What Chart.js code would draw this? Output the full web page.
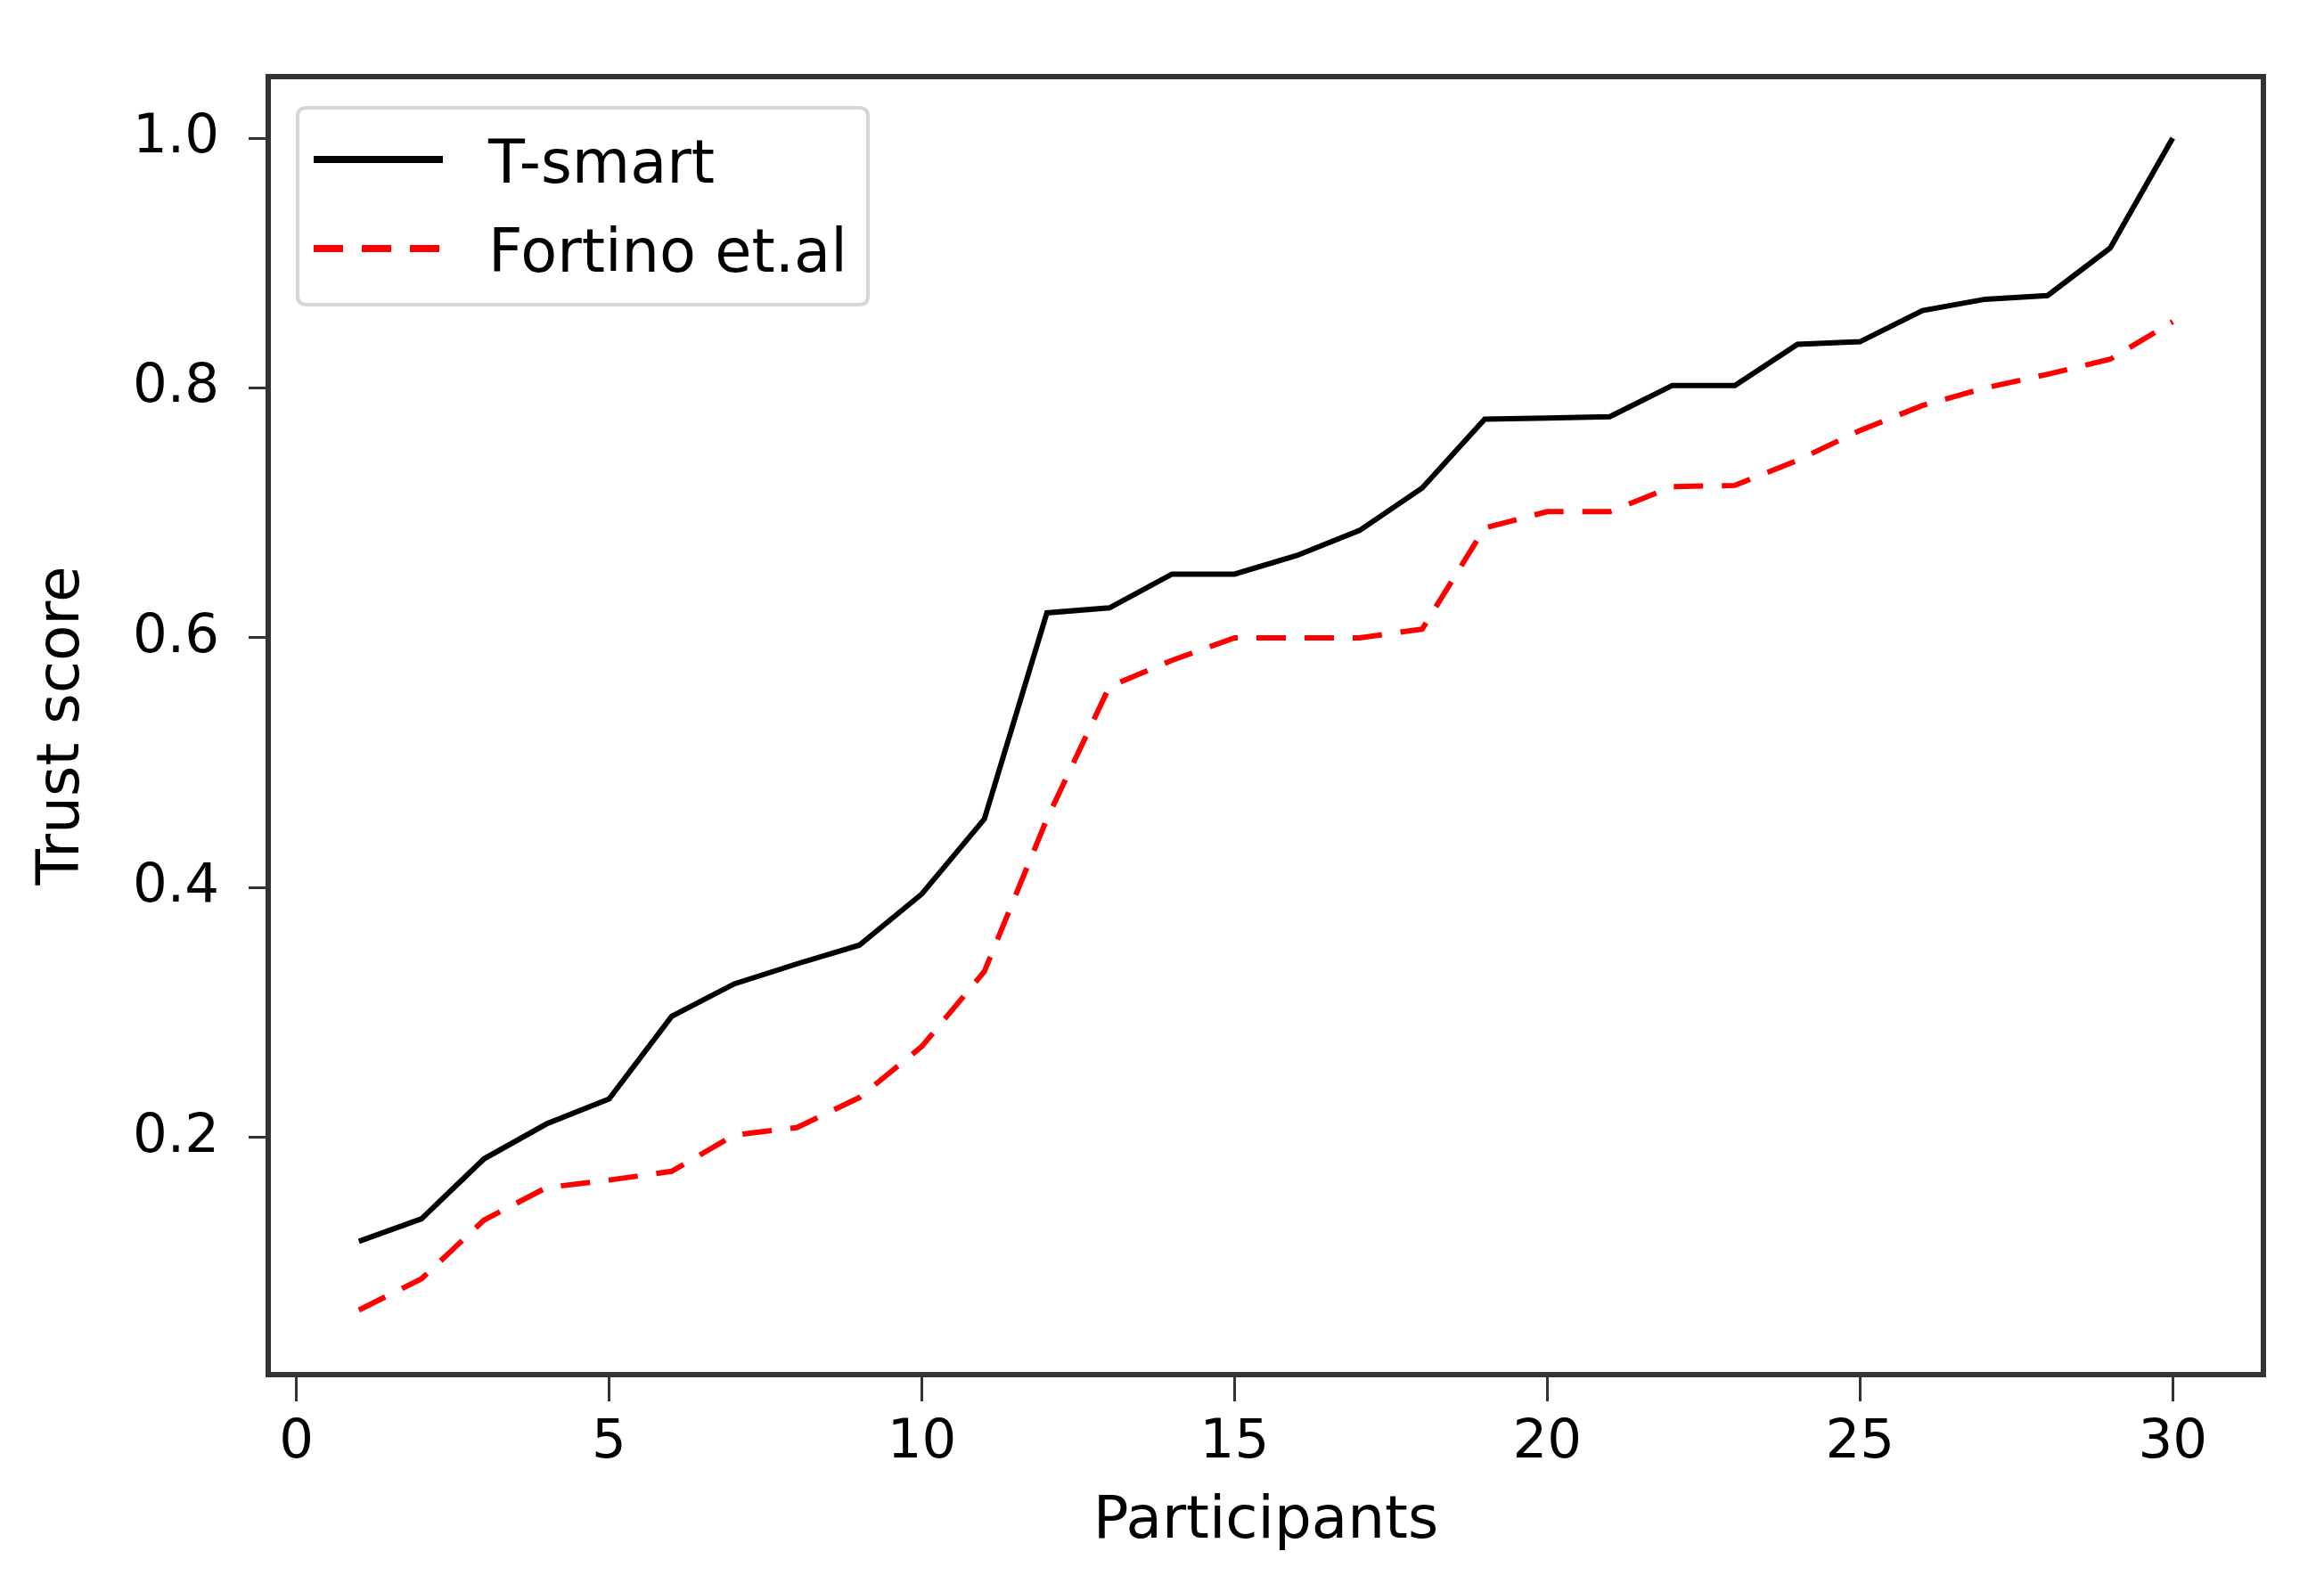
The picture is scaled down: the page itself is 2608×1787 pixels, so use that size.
<!DOCTYPE html>
<html>
<head>
<meta charset="utf-8">
<title>Trust score</title>
<script src="https://cdn.jsdelivr.net/npm/chart.js@4.4.0/dist/chart.umd.min.js"></script>
<style>
  html, body { margin: 0; padding: 0; background: #fff; }
  #wrap { width: 2608px; height: 1787px; }
</style>
</head>
<body>
<div id="wrap"><canvas id="trustChart" width="2608" height="1787"></canvas></div>
<script>
// ---- Datos ----
const participants = [1, 2, 3, 4, 5, 6, 7, 8, 9, 10, 11, 12, 13, 14, 15,
                      16, 17, 18, 19, 20, 21, 22, 23, 24, 25, 26, 27, 28, 29, 30];
const tsmart = [0.117, 0.135, 0.183, 0.211, 0.231, 0.297, 0.323, 0.339, 0.354, 0.395,
                0.455, 0.620, 0.624, 0.651, 0.651, 0.666, 0.686, 0.720, 0.775, 0.776,
                0.777, 0.802, 0.802, 0.835, 0.837, 0.862, 0.871, 0.874, 0.912, 1.000];
const fortino = [0.062, 0.087, 0.134, 0.160, 0.166, 0.173, 0.202, 0.208, 0.232, 0.273,
                 0.333, 0.455, 0.561, 0.582, 0.600, 0.600, 0.600, 0.607, 0.688, 0.701,
                 0.701, 0.721, 0.722, 0.742, 0.766, 0.786, 0.800, 0.811, 0.823, 0.853];
const xTicks = [0, 5, 10, 15, 20, 25, 30];
const yTicks = [0.2, 0.4, 0.6, 0.8, 1.0];
const seriesNames = ["T-smart", "Fortino et.al"];

const FONT = "'DejaVu Sans', 'Liberation Sans', sans-serif";
const AXIS = "#333333";

// marco completo del área del gráfico (estilo matplotlib)
const frame = {
  id: "frame",
  afterDatasetsDraw(chart) {
    const { ctx, chartArea: a } = chart;
    ctx.save();
    ctx.strokeStyle = AXIS;
    ctx.lineWidth = 6;
    ctx.strokeRect(a.left, a.top, a.right - a.left, a.bottom - a.top);
    ctx.restore();
  }
};

// leyenda con caja dentro del área, arriba a la izquierda
const boxLegend = {
  id: "boxLegend",
  afterDraw(chart) {
    const { ctx, chartArea: a } = chart;
    const x = a.left + 33, y = a.top + 35, w = 640, h = 221, r = 10;
    ctx.save();
    ctx.beginPath();
    ctx.moveTo(x + r, y);
    ctx.lineTo(x + w - r, y);
    ctx.quadraticCurveTo(x + w, y, x + w, y + r);
    ctx.lineTo(x + w, y + h - r);
    ctx.quadraticCurveTo(x + w, y + h, x + w - r, y + h);
    ctx.lineTo(x + r, y + h);
    ctx.quadraticCurveTo(x, y + h, x, y + h - r);
    ctx.lineTo(x, y + r);
    ctx.quadraticCurveTo(x, y, x + r, y);
    ctx.closePath();
    ctx.fillStyle = "rgba(255,255,255,0.8)";
    ctx.fill();
    ctx.strokeStyle = "#d6d6d6";
    ctx.lineWidth = 4;
    ctx.stroke();

    ctx.font = "67px " + FONT;
    ctx.textBaseline = "alphabetic";
    ctx.textAlign = "left";
    chart.data.datasets.forEach((ds, i) => {
      const ly = y + 58 + i * 100;
      ctx.beginPath();
      ctx.setLineDash(ds.borderDash || []);
      ctx.strokeStyle = ds.borderColor;
      ctx.lineWidth = ds.borderWidth + 2;
      ctx.moveTo(x + 18, ly);
      ctx.lineTo(x + 163, ly);
      ctx.stroke();
      ctx.setLineDash([]);
      ctx.fillStyle = "#000";
      ctx.fillText(ds.label, x + 214, ly + 26);
    });
    ctx.restore();
  }
};

const ctx = document.getElementById("trustChart").getContext("2d");
new Chart(ctx, {
  type: "line",
  data: {
    datasets: [
      {
        label: seriesNames[0],
        data: participants.map((p, i) => ({ x: p, y: tsmart[i] })),
        borderColor: "#000000",
        borderWidth: 6,
        pointRadius: 0,
        tension: 0,
        fill: false
      },
      {
        label: seriesNames[1],
        data: participants.map((p, i) => ({ x: p, y: fortino[i] })),
        borderColor: "#ff0000",
        borderWidth: 6,
        borderDash: [33, 21],
        pointRadius: 0,
        tension: 0,
        fill: false
      }
    ]
  },
  options: {
    responsive: false,
    animation: false,
    devicePixelRatio: 1,
    layout: { padding: { top: 86, right: 68, left: 0, bottom: 0 } },
    plugins: {
      legend: { display: false },
      tooltip: { enabled: false }
    },
    scales: {
      x: {
        type: "linear",
        min: -0.45,
        max: 31.45,
        afterBuildTicks: (s) => { s.ticks = xTicks.map(v => ({ value: v })); },
        afterFit: (s) => { s.height = 244; },
        border: { display: false },
        grid: { drawOnChartArea: false, drawTicks: true, tickLength: 30, color: AXIS, lineWidth: 3 },
        ticks: {
          padding: 11,
          color: "#000",
          font: { family: FONT, size: 61, lineHeight: 1.2 },
          maxRotation: 0,
          autoSkip: false,
          callback: (v) => String(v)
        },
        title: {
          display: true,
          text: "Participants",
          color: "#000",
          font: { family: FONT, size: 66, lineHeight: 1.2 },
          padding: { top: 0, bottom: 39 }
        }
      },
      y: {
        type: "linear",
        min: 0.0103,
        max: 1.0492,
        afterBuildTicks: (s) => { s.ticks = yTicks.map(v => ({ value: v })); },
        afterFit: (s) => { s.width = 301; },
        border: { display: false },
        grid: { drawOnChartArea: false, drawTicks: true, tickLength: 22, color: AXIS, lineWidth: 3 },
        ticks: {
          padding: 33,
          color: "#000",
          font: { family: FONT, size: 61, lineHeight: 1.2 },
          autoSkip: false,
          callback: (v) => Number(v).toFixed(1)
        },
        title: {
          display: true,
          text: "Trust score",
          color: "#000",
          font: { family: FONT, size: 66, lineHeight: 1.2 },
          padding: { top: 31, bottom: 0 }
        }
      }
    }
  },
  plugins: [frame, boxLegend]
});
</script>
</body>
</html>
